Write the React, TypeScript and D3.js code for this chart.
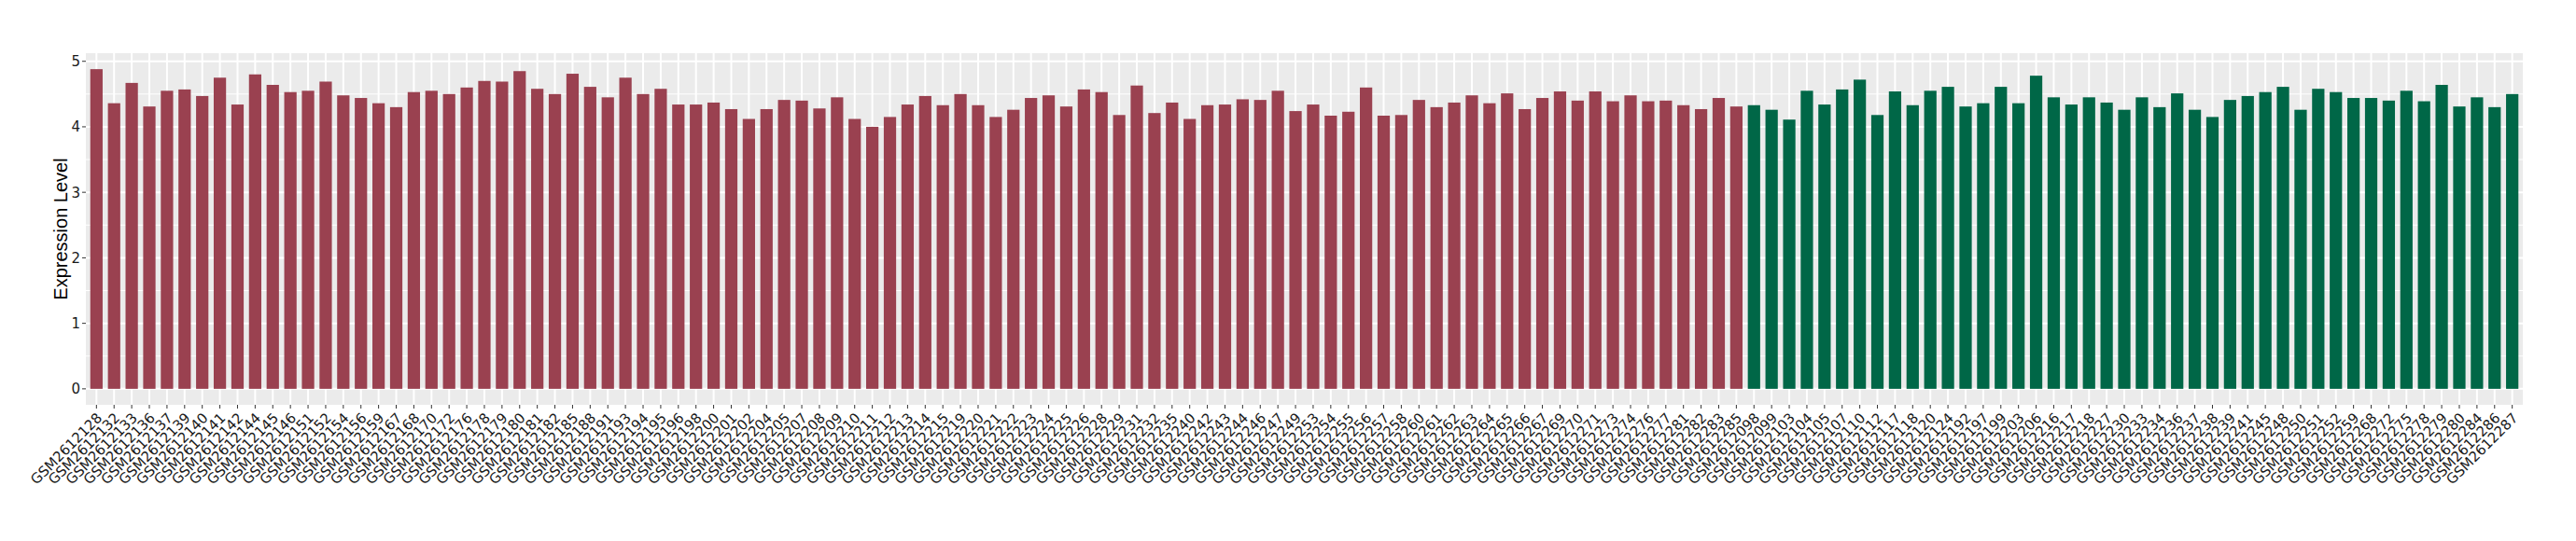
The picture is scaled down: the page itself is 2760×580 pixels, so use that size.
import React from "react";
import * as d3 from "d3";

const WIDTH = 2760;
const HEIGHT = 580;
const MARGIN = { top: 57, right: 57, bottom: 146, left: 92 };

// samples in the first group (red) and their expression levels
const redSamples = [
  "GSM2612128", "GSM2612132", "GSM2612133", "GSM2612136", "GSM2612137", "GSM2612139", "GSM2612140", "GSM2612141",
  "GSM2612142", "GSM2612144", "GSM2612145", "GSM2612146", "GSM2612151", "GSM2612152", "GSM2612154", "GSM2612156",
  "GSM2612159", "GSM2612167", "GSM2612168", "GSM2612170", "GSM2612172", "GSM2612176", "GSM2612178", "GSM2612179",
  "GSM2612180", "GSM2612181", "GSM2612182", "GSM2612185", "GSM2612188", "GSM2612191", "GSM2612193", "GSM2612194",
  "GSM2612195", "GSM2612196", "GSM2612198", "GSM2612200", "GSM2612201", "GSM2612202", "GSM2612204", "GSM2612205",
  "GSM2612207", "GSM2612208", "GSM2612209", "GSM2612210", "GSM2612211", "GSM2612212", "GSM2612213", "GSM2612214",
  "GSM2612215", "GSM2612219", "GSM2612220", "GSM2612221", "GSM2612222", "GSM2612223", "GSM2612224", "GSM2612225",
  "GSM2612226", "GSM2612228", "GSM2612229", "GSM2612231", "GSM2612232", "GSM2612235", "GSM2612240", "GSM2612242",
  "GSM2612243", "GSM2612244", "GSM2612246", "GSM2612247", "GSM2612249", "GSM2612253", "GSM2612254", "GSM2612255",
  "GSM2612256", "GSM2612257", "GSM2612258", "GSM2612260", "GSM2612261", "GSM2612262", "GSM2612263", "GSM2612264",
  "GSM2612265", "GSM2612266", "GSM2612267", "GSM2612269", "GSM2612270", "GSM2612271", "GSM2612273", "GSM2612274",
  "GSM2612276", "GSM2612277", "GSM2612281", "GSM2612282", "GSM2612283", "GSM2612285",
];
const redValues = [
  4.88, 4.36, 4.67, 4.31, 4.55, 4.57, 4.47, 4.75, 4.34, 4.8, 4.64, 4.53, 4.55, 4.69, 4.48, 4.44, 4.36, 4.3, 4.53, 4.55,
  4.5, 4.6, 4.7, 4.69, 4.85, 4.58, 4.5, 4.81, 4.61, 4.45, 4.75, 4.5, 4.58, 4.34, 4.34, 4.37, 4.27, 4.12, 4.27, 4.41,
  4.4, 4.28, 4.45, 4.12, 4.0, 4.15, 4.34, 4.47, 4.33, 4.5, 4.33, 4.15, 4.26, 4.44, 4.48, 4.31, 4.57, 4.53, 4.18, 4.63,
  4.21, 4.37, 4.12, 4.33, 4.34, 4.42, 4.41, 4.55, 4.24, 4.34, 4.17, 4.23, 4.6, 4.17, 4.18, 4.41, 4.3, 4.37, 4.48, 4.36,
  4.51, 4.27, 4.44, 4.54, 4.4, 4.54, 4.39, 4.48, 4.39, 4.4, 4.33, 4.27, 4.44, 4.31,
];

// samples in the second group (green)
const greenSamples = [
  "GSM2612098", "GSM2612099", "GSM2612103", "GSM2612104", "GSM2612105", "GSM2612107", "GSM2612110", "GSM2612112",
  "GSM2612117", "GSM2612118", "GSM2612120", "GSM2612124", "GSM2612192", "GSM2612197", "GSM2612199", "GSM2612203",
  "GSM2612206", "GSM2612216", "GSM2612217", "GSM2612218", "GSM2612227", "GSM2612230", "GSM2612233", "GSM2612234",
  "GSM2612236", "GSM2612237", "GSM2612238", "GSM2612239", "GSM2612241", "GSM2612245", "GSM2612248", "GSM2612250",
  "GSM2612251", "GSM2612252", "GSM2612259", "GSM2612268", "GSM2612272", "GSM2612275", "GSM2612278", "GSM2612279",
  "GSM2612280", "GSM2612284", "GSM2612286", "GSM2612287",
];
const greenValues = [
  4.33, 4.26, 4.11, 4.55, 4.34, 4.57, 4.72, 4.18, 4.54, 4.33, 4.55, 4.61, 4.31, 4.36, 4.61, 4.36, 4.78, 4.45, 4.34, 4.45,
  4.37, 4.26, 4.45, 4.3, 4.51, 4.26, 4.15, 4.41, 4.47, 4.53, 4.61, 4.26, 4.58, 4.53, 4.44, 4.44, 4.4, 4.55, 4.39, 4.64,
  4.31, 4.45, 4.3, 4.5,
];

const yTicks = [0, 1, 2, 3, 4, 5];
const yMinor = [0.5, 1.5, 2.5, 3.5, 4.5];

const RED = "#9A4150";
const GREEN = "#006747";

const App = () => {
  const data = [
    ...redSamples.map((s, i) => ({ name: s, value: redValues[i], color: RED })),
    ...greenSamples.map((s, i) => ({ name: s, value: greenValues[i], color: GREEN })),
  ];

  const boundsWidth = WIDTH - MARGIN.left - MARGIN.right;
  const boundsHeight = HEIGHT - MARGIN.top - MARGIN.bottom;

  const xScale = d3
    .scaleBand()
    .domain(data.map((d) => d.name))
    .range([0, boundsWidth])
    .paddingInner(0.3)
    .paddingOuter(0.25);

  const maxV = d3.max(data, (d) => d.value) || 5;
  const yScale = d3
    .scaleLinear()
    .domain([-0.05 * maxV, maxV * 1.05])
    .range([boundsHeight, 0]);

  const bw = xScale.bandwidth();

  return (
    <svg width={WIDTH} height={HEIGHT} style={{ position: "absolute", left: 0, top: 0, background: "white" }}>
      <g transform={`translate(${MARGIN.left},${MARGIN.top})`}>
        <rect x={0} y={0} width={boundsWidth} height={boundsHeight} fill="#EBEBEB" />
        {yMinor.map((t) => (
          <line key={"m" + t} x1={0} x2={boundsWidth} y1={yScale(t)} y2={yScale(t)} stroke="white" strokeWidth={1} />
        ))}
        {yTicks.map((t) => (
          <line key={"g" + t} x1={0} x2={boundsWidth} y1={yScale(t)} y2={yScale(t)} stroke="white" strokeWidth={2} />
        ))}
        {data.map((d) => {
          const cx = (xScale(d.name) || 0) + bw / 2;
          return <line key={"v" + d.name} x1={cx} x2={cx} y1={0} y2={boundsHeight} stroke="white" strokeWidth={2} />;
        })}
        {data.map((d) => (
          <rect
            key={d.name}
            x={xScale(d.name)}
            y={yScale(d.value)}
            width={bw}
            height={yScale(0) - yScale(d.value)}
            fill={d.color}
          />
        ))}

        {/* y axis */}
        {yTicks.map((t) => (
          <g key={"yt" + t} transform={`translate(0,${yScale(t)})`}>
            <line x1={-4} x2={0} stroke="#333333" strokeWidth={1} />
            <text x={-6} dy="0.36em" textAnchor="end" fontFamily="DejaVu Sans" fontSize={15} fill="#1a1a1a">
              {t}
            </text>
          </g>
        ))}

        {/* x axis */}
        {data.map((d) => {
          const cx = (xScale(d.name) || 0) + bw / 2;
          return (
            <g key={"xt" + d.name}>
              <line x1={cx} x2={cx} y1={boundsHeight} y2={boundsHeight + 4} stroke="#333333" strokeWidth={1} />
              <text
                transform={`translate(${cx + 7},${boundsHeight + 15}) rotate(-45)`}
                textAnchor="end"
                fontFamily="DejaVu Sans"
                fontSize={15}
                fill="#1a1a1a"
              >
                {d.name}
              </text>
            </g>
          );
        })}

        <text
          transform={`translate(${72 - MARGIN.left},${boundsHeight / 2}) rotate(-90)`}
          textAnchor="middle"
          fontFamily="Liberation Sans"
          fontSize={20}
          fill="black"
        >
          Expression Level
        </text>
      </g>
    </svg>
  );
};

export default App;
